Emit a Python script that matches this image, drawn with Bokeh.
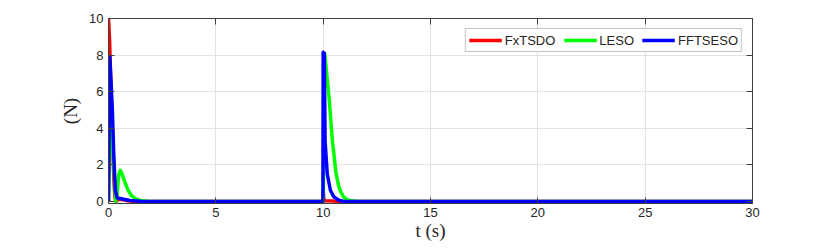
from bokeh.plotting import figure
from bokeh.models import Range1d, FixedTicker, LinearAxis, Legend, LegendItem
from bokeh.embed import file_html
from bokeh.resources import INLINE

# ---- data ----
t_fxtsdo = [0, 0.05, 0.1, 0.15, 0.2, 0.25, 0.3, 0.36, 0.45, 0.6, 0.9, 1.3,
            9.99, 10.0, 10.03, 10.08, 10.5, 10.6, 30]
f_fxtsdo = [10, 8.8, 6.8, 4.8, 2.9, 1.2, 0.2, 0.0, 0.14, 0.12, 0.04, 0,
            0, 0.6, 0.15, 0.04, 0.02, 0, 0]

t_leso = [0, 0.1, 0.2, 0.33, 0.4, 0.47, 0.55, 0.62, 0.75, 0.9, 1.05, 1.25, 1.5, 1.9,
          9.99, 10.0, 10.07, 10.28, 10.43, 10.5, 10.58, 10.7, 10.81, 10.95, 11.1, 11.4, 11.7, 30]
f_leso = [0, 5.0, 3.2, 0.0, 0.4, 1.4, 1.7, 1.55, 1.1, 0.65, 0.35, 0.15, 0.05, 0,
          0, 0, 8.1, 5.6, 3.3, 2.6, 1.7, 0.95, 0.55, 0.25, 0.1, 0.02, 0, 0]

t_fftseso = [0, 0.06, 0.12, 0.18, 0.25, 0.32, 0.4, 0.5, 0.7, 1.0, 1.5, 2.0,
             9.99, 10.0, 10.05, 10.09, 10.19, 10.34, 10.5, 10.7, 10.95, 30]
f_fftseso = [0, 7.9, 6.5, 5.0, 2.4, 0.6, 0.2, 0.18, 0.12, 0.05, 0.01, 0,
             0, 8.15, 8.1, 3.3, 1.5, 0.6, 0.25, 0.08, 0, 0]

series_names = ["FxTSDO", "LESO", "FFTSESO"]
x_ticks = [0, 5, 10, 15, 20, 25, 30]
y_ticks = [0, 2, 4, 6, 8, 10]

AX = "#404040"
TXT = "#262626"

p = figure(width=830, height=249, output_backend="svg", toolbar_location=None,
           title=None,
           x_range=Range1d(0, 30), y_range=Range1d(-0.11, 10),
           min_border_left=108, min_border_right=78,
           min_border_top=18, min_border_bottom=46)
p.background_fill_color = "white"
p.border_fill_color = "white"
p.outline_line_color = AX
p.outline_line_width = 1

for ax, ticks in ((p.xaxis, x_ticks), (p.yaxis, y_ticks)):
    ax.ticker = FixedTicker(ticks=ticks)
    ax.axis_line_color = AX
    ax.major_tick_line_color = AX
    ax.major_tick_in = 6
    ax.major_tick_out = 0
    ax.minor_tick_line_color = None
    ax.major_label_text_font = "Liberation Sans"
    ax.major_label_text_font_size = "13px"
    ax.major_label_text_color = TXT
    ax.axis_label_text_font = "Liberation Serif"
    ax.axis_label_text_font_size = "19px"
    ax.axis_label_text_font_style = "normal"
    ax.axis_label_text_color = TXT
p.xaxis.major_label_standoff = 4
p.yaxis.major_label_standoff = 5

p.yaxis.axis_label = "(N)"
p.yaxis.axis_label_standoff = 5
p.xaxis.axis_label = "t (s)"
p.xaxis.axis_label_standoff = 0

# box ticks on top and right (no labels)
for loc, ticks in (("above", x_ticks), ("right", y_ticks)):
    a = LinearAxis(ticker=FixedTicker(ticks=ticks), major_label_text_color=None,
                   major_label_standoff=0, major_tick_in=6, major_tick_out=0,
                   minor_tick_line_color=None, axis_line_color=AX,
                   major_tick_line_color=AX)
    p.add_layout(a, loc)

p.xgrid.ticker = FixedTicker(ticks=x_ticks)
p.ygrid.ticker = FixedTicker(ticks=y_ticks)
p.grid.grid_line_color = "#e3e3e3"
p.grid.grid_line_width = 1

colors = ["#ff0000", "#00ff00", "#0000ff"]
data = [(t_fxtsdo, f_fxtsdo), (t_leso, f_leso), (t_fftseso, f_fftseso)]
items = []
for name, col, (tt, ff) in zip(series_names, colors, data):
    r = p.line(tt, ff, line_color=col, line_width=3.5, line_join="round")
    items.append(LegendItem(label=name, renderers=[r]))

legend = Legend(items=items, location="top_right", orientation="horizontal",
                margin=10, padding=3, spacing=8, label_standoff=3,
                glyph_width=33, glyph_height=16, label_height=16,
                label_text_font="Liberation Sans", label_text_font_size="13px",
                label_text_color=TXT, border_line_color="#8a8a8a",
                border_line_width=1, background_fill_color="white",
                background_fill_alpha=1)
p.add_layout(legend)

open("out.html", "w").write(file_html(p, INLINE))
